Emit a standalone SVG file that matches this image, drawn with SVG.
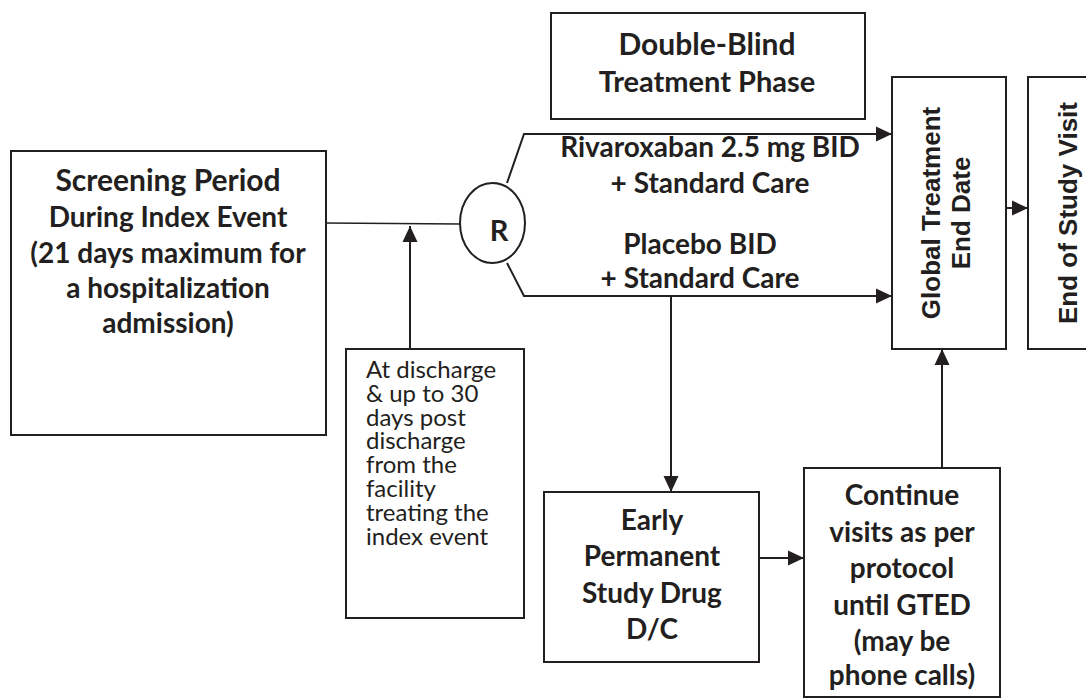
<svg xmlns="http://www.w3.org/2000/svg" width="1086" height="698" viewBox="0 0 1086 698">
<defs>
<style>
.box{fill:#fff;stroke:#231f20;stroke-width:2}
.ln{fill:none;stroke:#231f20;stroke-width:2}
.thin{fill:none;stroke:#231f20;stroke-width:1.5}
.b{font-family:Lato,"Open Sans",sans-serif;font-weight:bold;fill:#231f20;text-anchor:middle}
.r{font-family:Lato,"Open Sans",sans-serif;font-weight:normal;fill:#231f20}
.a{font-family:"Liberation Sans",Arial,sans-serif;font-weight:bold;fill:#231f20;text-anchor:middle;font-size:26px}
</style>
<marker id="ah" markerWidth="16" markerHeight="16" viewBox="0 0 16 16" refX="16" refY="8" orient="auto" markerUnits="userSpaceOnUse">
<path d="M0,0.5 L16,8 L0,15.5 Z" fill="#231f20"/>
</marker>
</defs>
<rect width="1086" height="698" fill="#fff"/>

<g id="connectors">
<line class="thin" x1="326" y1="223" x2="460" y2="224"/>
<line class="ln" x1="410" y1="349" x2="410" y2="226" marker-end="url(#ah)"/>
<polyline class="ln" points="507,183 524,134 892,134" marker-end="url(#ah)"/>
<polyline class="ln" points="507,263 524,296 892,296" marker-end="url(#ah)"/>
<line class="ln" x1="671" y1="296" x2="671" y2="492" marker-end="url(#ah)"/>
<line class="ln" x1="759" y1="558" x2="804" y2="558" marker-end="url(#ah)"/>
<line class="ln" x1="942" y1="468" x2="942" y2="349" marker-end="url(#ah)"/>
<line class="ln" x1="1006" y1="208" x2="1028" y2="208" marker-end="url(#ah)"/>
</g>

<g id="screening">
<rect class="box" x="11" y="151" width="315" height="284"/>
<text class="b" x="168" y="191" font-size="30">Screening Period</text>
<text class="b" x="168" y="227" font-size="28">During Index Event</text>
<text class="b" x="168" y="263" font-size="28">(21 days maximum for</text>
<text class="b" x="168" y="298" font-size="28">a hospitalization</text>
<text class="b" x="168" y="333" font-size="28">admission)</text>
</g>

<g id="randomize">
<ellipse class="box" cx="492.5" cy="223" rx="32.5" ry="40"/>
<text class="b" x="499" y="241" font-size="29">R</text>
</g>

<g id="double-blind">
<rect class="box" x="551" y="13" width="314" height="106"/>
<text class="b" x="707" y="55" font-size="30">Double-Blind</text>
<text class="b" x="707" y="92" font-size="29">Treatment Phase</text>
</g>

<g id="arm-labels">
<text class="b" x="710" y="157" font-size="28">Rivaroxaban 2.5 mg BID</text>
<text class="b" x="710" y="193" font-size="28">+ Standard Care</text>
<text class="b" x="700" y="254" font-size="28">Placebo BID</text>
<text class="b" x="700" y="288" font-size="28">+ Standard Care</text>
</g>

<g id="discharge">
<rect class="box" x="346" y="349" width="178" height="269"/>
<text class="r" x="366" font-size="24">
<tspan x="366" y="378">At discharge</tspan>
<tspan x="366" y="402">&amp; up to 30</tspan>
<tspan x="366" y="426">days post</tspan>
<tspan x="366" y="449">discharge</tspan>
<tspan x="366" y="473">from the</tspan>
<tspan x="366" y="497">facility</tspan>
<tspan x="366" y="521">treating the</tspan>
<tspan x="366" y="545">index event</tspan>
</text>
</g>

<g id="early-dc">
<rect class="box" x="544" y="492" width="215" height="170"/>
<text class="b" x="652" y="530" font-size="28">Early</text>
<text class="b" x="652" y="566" font-size="28">Permanent</text>
<text class="b" x="652" y="603" font-size="28">Study Drug</text>
<text class="b" x="652" y="639" font-size="28">D/C</text>
</g>

<g id="continue">
<rect class="box" x="804" y="468" width="196" height="229"/>
<text class="b" x="902" y="505" font-size="28">Continue</text>
<text class="b" x="902" y="542" font-size="28">visits as per</text>
<text class="b" x="902" y="578" font-size="28">protocol</text>
<text class="b" x="902" y="615" font-size="28">until GTED</text>
<text class="b" x="902" y="651" font-size="28">(may be</text>
<text class="b" x="902" y="685" font-size="28">phone calls)</text>
</g>

<g id="gted">
<rect class="box" x="892" y="77" width="114" height="272"/>
<text class="a" transform="translate(940,213) rotate(-90)">Global Treatment</text>
<text class="a" transform="translate(970,213) rotate(-90)">End Date</text>
</g>

<g id="end-of-study">
<rect class="box" x="1028" y="77" width="70" height="272"/>
<text class="a" transform="translate(1077,213) rotate(-90)">End of Study Visit</text>
</g>
</svg>
